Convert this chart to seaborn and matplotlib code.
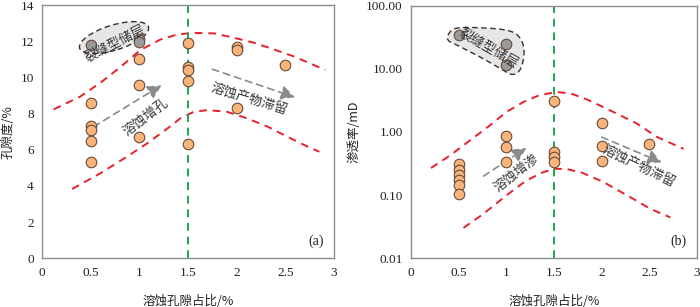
import numpy as np
import pandas as pd
import seaborn as sns
import matplotlib
matplotlib.use("Agg")
import matplotlib.pyplot as plt
from matplotlib.patches import Ellipse, PathPatch
from matplotlib.path import Path
from matplotlib.transforms import ScaledTranslation
from matplotlib.ticker import MultipleLocator, FixedLocator, LogLocator, NullFormatter

# ---------------- data ----------------
# (a) porosity vs dissolution pore ratio
a_x = [0.5, 0.5, 0.5, 0.5, 0.5, 1.0, 1.0, 1.0, 1.5, 1.5, 1.5, 1.5, 1.5, 2.0, 2.0, 2.0, 2.5]
a_y = [8.6, 7.3, 7.1, 6.5, 5.3, 11.0, 9.6, 6.7, 11.9, 10.6, 10.4, 9.8, 6.3, 11.7, 11.5, 8.3, 10.7]
a_frac_x = [0.5, 1.0, 1.0]
a_frac_y = [11.8, 12.1, 11.93]
a_up_x = [0.12, 0.39, 0.60, 0.81, 1.01, 1.22, 1.39, 1.56, 1.77, 1.97, 2.18, 2.38, 2.59, 2.79, 2.91]
a_up_y = [8.23, 8.93, 9.70, 10.59, 11.51, 12.10, 12.37, 12.46, 12.43, 12.19, 11.91, 11.55, 11.15, 10.69, 10.41]
a_lo_x = [0.31, 0.60, 0.87, 1.08, 1.29, 1.42, 1.56, 1.70, 1.90, 2.11, 2.32, 2.52, 2.73, 2.85]
a_lo_y = [3.83, 4.70, 5.61, 6.35, 7.18, 7.73, 8.10, 8.19, 8.10, 7.73, 7.27, 6.72, 6.17, 5.89]

# (b) permeability vs dissolution pore ratio
b_x = [0.5, 0.5, 0.5, 0.5, 0.5, 0.5, 1.0, 1.0, 1.0, 1.5, 1.5, 1.5, 1.5, 2.0, 2.0, 2.0, 2.5]
b_y = [0.31, 0.25, 0.205, 0.175, 0.146, 0.103, 0.86, 0.58, 0.33, 3.1, 0.48, 0.40, 0.34, 1.37, 0.60, 0.35, 0.64]
b_frac_x = [0.5, 1.0, 1.0]
b_frac_y = [34.0, 24.6, 11.4]
b_up_x = [0.21, 0.41, 0.62, 0.83, 1.00, 1.18, 1.35, 1.53, 1.68, 1.84, 2.00, 2.16, 2.37, 2.58, 2.86]
b_up_y = [0.269, 0.426, 0.738, 1.28, 2.07, 2.99, 3.85, 4.30, 4.05, 3.30, 2.55, 1.95, 1.36, 0.834, 0.54]
b_lo_x = [0.55, 0.76, 1.00, 1.21, 1.39, 1.51, 1.64, 1.80, 2.02, 2.30, 2.51, 2.72]
b_lo_y = [0.0303, 0.0506, 0.0989, 0.171, 0.232, 0.262, 0.258, 0.225, 0.161, 0.093, 0.0607, 0.0445]

x_ticks = [0, 0.5, 1, 1.5, 2, 2.5, 3]
x_ticklabels = ["0", "0.5", "1", "1.5", "2", "2.5", "3"]
a_yticks = [0, 2, 4, 6, 8, 10, 12, 14]
b_yticks = [0.01, 0.1, 1, 10, 100]
b_yticklabels = ["0.01", "0.10", "1.00", "10.00", "100.00"]

xlabel = "溶蚀孔隙占比/%"
a_ylabel = "孔隙度/%"
b_ylabel = "渗透率/mD"

# ---------------- style ----------------
sns.set_theme(style="white")
plt.rcParams["font.family"] = ["Liberation Serif", "Noto Sans CJK SC", "DejaVu Sans"]
CJK = ["Noto Sans CJK SC", "DejaVu Sans"]

ORANGE = "#F7B57C"
EDGE = "#6b4a36"
GRAYPT = "#9a9a9a"
RED = "#E8202A"
GREEN = "#1BA84C"
SPINE = "#8c8c8c"
ARROW = "#8a8a8a"

fig = plt.figure(figsize=(7.0, 3.07), dpi=100)
axa = fig.add_axes([42 / 700, (307 - 258.3) / 307, (334 - 42) / 700, (258.3 - 5) / 307])
axb = fig.add_axes([411 / 700, (307 - 258.3) / 307, (697 - 411) / 700, (258.3 - 5.7) / 307])

def style_axes(ax):
    for s in ax.spines.values():
        s.set_color(SPINE)
        s.set_linewidth(1.0)
    ax.tick_params(axis="x", which="both", direction="in", color=SPINE, labelsize=9.5,
                   labelcolor="#222222", pad=6)
    ax.tick_params(axis="y", which="both", direction="out", color=SPINE, labelsize=9.5,
                   labelcolor="#222222", pad=2)
    ax.tick_params(which="major", length=4, width=0.8)
    ax.tick_params(which="minor", length=2.5, width=0.7)
    ax.xaxis.set_minor_locator(MultipleLocator(0.1))
    ax.set_xlim(0, 3)
    ax.set_xticks(x_ticks)
    ax.set_xticklabels(x_ticklabels)
    ax.set_xlabel(xlabel, family=CJK, fontsize=9, color="#222222", labelpad=12)

def dashed_curve(ax, xs, ys, color, dashes):
    df = pd.DataFrame({"x": xs, "y": ys})
    sns.lineplot(data=df, x="x", y="y", ax=ax, color=color, lw=1.4, estimator=None,
                 sort=False, dashes=False)
    ax.lines[-1].set_dashes(dashes)

def pts(ax, xs, ys, color, z=4):
    df = pd.DataFrame({"x": xs, "y": ys})
    sns.scatterplot(data=df, x="x", y="y", ax=ax, s=58, color=color, edgecolor=EDGE,
                    linewidth=0.8, zorder=z)

def garrow(ax, x0, y0, x1, y1):
    ax.annotate("", xy=(x1, y1), xytext=(x0, y0),
                arrowprops=dict(arrowstyle="-|>,head_length=0.7,head_width=0.35", color=ARROW,
                                lw=1.2, ls=(0, (4, 3)), shrinkA=0, shrinkB=0), zorder=3)

def glabel(ax, x, y, s, rot, size=9.5):
    ax.text(x, y, s, family=CJK, fontsize=size, color="#333333", rotation=rot,
            ha="center", va="center", rotation_mode="anchor", zorder=6)

# ---------------- panel (a) ----------------
style_axes(axa)
axa.set_ylim(0, 14)
axa.set_yticks(a_yticks)
axa.yaxis.set_minor_locator(MultipleLocator(0.5))
axa.set_ylabel(a_ylabel, family=CJK, fontsize=9, color="#222222", labelpad=4)

dashed_curve(axa, a_up_x, a_up_y, RED, (4, 3))
dashed_curve(axa, a_lo_x, a_lo_y, RED, (4, 3))
axa.axvline(1.5, color=GREEN, lw=1.4, dashes=(4, 3), zorder=2)

# fracture ellipse
tr = fig.dpi_scale_trans + ScaledTranslation(0.74, 12.2, axa.transData)
axa.add_patch(Ellipse((0, 0), 0.72, 0.25, angle=17, transform=tr, facecolor="#e6e6e6",
                      edgecolor="#333333", lw=1.0, ls=(0, (4, 2.5)), zorder=3))
pts(axa, a_x, a_y, ORANGE)
pts(axa, a_frac_x, a_frac_y, GRAYPT, z=4)
glabel(axa, 0.75, 11.9, "裂缝型储层", 27, size=9.5)

garrow(axa, 0.53, 7.27, 1.23, 9.57)
glabel(axa, 1.07, 7.8, "溶蚀增孔", 37)
garrow(axa, 1.75, 10.45, 2.6, 8.9)
glabel(axa, 2.13, 8.75, "溶蚀产物滞留", -17)
axa.text(0.965, 0.04, "(a)", transform=axa.transAxes, ha="right", va="bottom",
         fontsize=10, color="#222222")

# ---------------- panel (b) ----------------
style_axes(axb)
axb.set_yscale("log")
axb.set_ylim(0.01, 100)
axb.yaxis.set_major_locator(FixedLocator(b_yticks))
axb.set_yticklabels(b_yticklabels)
axb.yaxis.set_minor_locator(LogLocator(base=10, subs=np.arange(2, 10) * 1.0, numticks=20))
axb.yaxis.set_minor_formatter(NullFormatter())
axb.set_ylabel(b_ylabel, family=CJK, fontsize=9, color="#222222", labelpad=4)

dashed_curve(axb, b_up_x, b_up_y, RED, (4, 3))
dashed_curve(axb, b_lo_x, b_lo_y, RED, (4, 3))
axb.axvline(1.5, color=GREEN, lw=1.4, dashes=(4, 3), zorder=2)

# fracture blob (outline in pixel offsets from a data anchor)
outline_px = np.array([(-44, -1), (-35, -8), (-5, -8), (18, -5), (28, 2), (32, 14),
                       (30, 29), (25, 37), (18, 38), (11, 34), (-10, 22), (-33, 10), (-43, 5)])
def catmull(p, n=12):
    out = []
    m = len(p)
    for i in range(m):
        p0, p1, p2, p3 = p[i - 1], p[i], p[(i + 1) % m], p[(i + 2) % m]
        for t in np.linspace(0, 1, n, endpoint=False):
            t2, t3 = t * t, t * t * t
            out.append(0.5 * ((2 * p1) + (-p0 + p2) * t + (2 * p0 - 5 * p1 + 4 * p2 - p3) * t2
                              + (-p0 + 3 * p1 - 3 * p2 + p3) * t3))
    out.append(out[0])
    return np.array(out)
blob = catmull(outline_px.astype(float))
blob[:, 1] *= -1
trb = fig.dpi_scale_trans + ScaledTranslation(0.85, 33.0, axb.transData)
axb.add_patch(PathPatch(Path(blob / 100.0), transform=trb, facecolor="#e6e6e6",
                        edgecolor="#333333", lw=1.0, ls=(0, (4, 2.5)), zorder=3))
pts(axb, b_x, b_y, ORANGE)
pts(axb, b_frac_x, b_frac_y, GRAYPT)
glabel(axb, 0.82, 21.0, "裂缝型储层", -30)

garrow(axb, 0.76, 0.2, 1.21, 0.56)
glabel(axb, 1.11, 0.23, "溶蚀增渗", 38)
garrow(axb, 2.0, 0.83, 2.63, 0.33)
glabel(axb, 2.39, 0.285, "溶蚀产物滞留", -26)
axb.text(0.965, 0.04, "(b)", transform=axb.transAxes, ha="right", va="bottom",
         fontsize=10, color="#222222")

for ax in (axa, axb):
    ax.set_xlim(0, 3)

fig.savefig("out.png", dpi=100)
